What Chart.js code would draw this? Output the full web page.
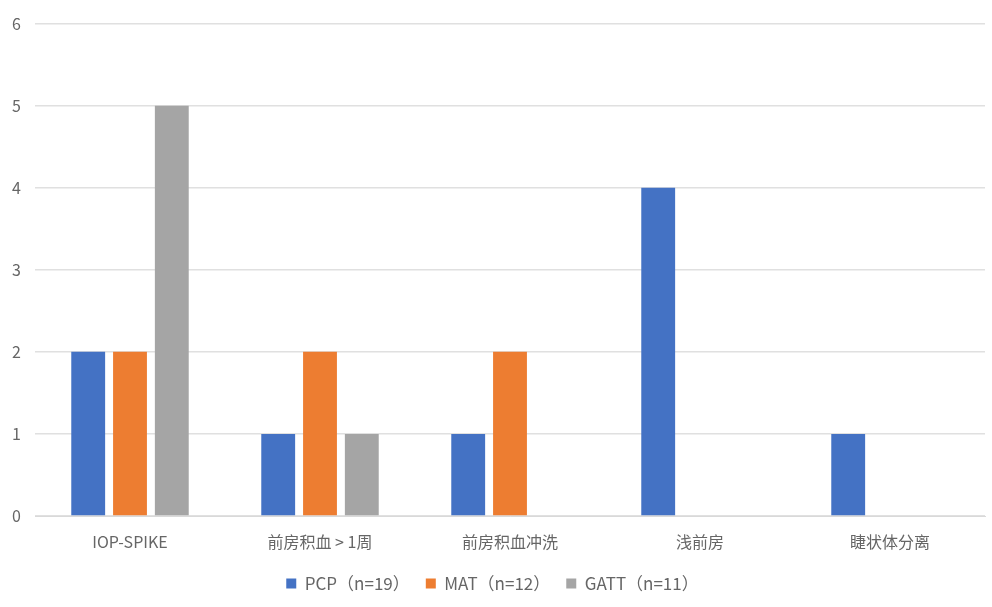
<!DOCTYPE html>
<html><head><meta charset="utf-8">
<script src="https://cdn.jsdelivr.net/npm/chart.js@4"></script>
<style>html,body{margin:0;padding:0;background:#fff}#wrap{width:992px;height:607px}</style>
</head><body><div id="wrap"><canvas id="c"></canvas></div>
<script>
const categories = ["IOP-SPIKE", "前房积血 > 1周", "前房积血冲洗", "浅前房", "睫状体分离"];
const seriesNames = ["PCP（n=19）", "MAT（n=12）", "GATT（n=11）"];
const pcp = [2, 1, 1, 4, 1];
const mat = [2, 2, 2, 0, 0];
const gatt = [5, 1, 0, 0, 0];
const yTicks = [0, 1, 2, 3, 4, 5, 6];
const colors = ["#4472C4", "#ED7D31", "#A5A5A5"];

const font = "'Noto Sans CJK SC', 'Noto Sans', sans-serif";
new Chart(document.getElementById('c'), {
  type: 'bar',
  data: {
    labels: categories,
    datasets: [pcp, mat, gatt].map((d, i) => ({
      label: seriesNames[i], data: d, backgroundColor: colors[i],
      categoryPercentage: 0.66, barPercentage: 0.81
    }))
  },
  options: {
    responsive: true, maintainAspectRatio: false, animation: false,
    layout: { padding: { left: 0, right: 7, top: -12, bottom: 5 } },
    plugins: {
      legend: { position: 'bottom', labels: { boxWidth: 10, boxHeight: 10, color: '#666666', font: { family: font, size: 17 }, padding: 16 } },
      tooltip: { enabled: false }
    },
    scales: {
      x: { grid: { display: false }, border: { display: true, color: '#d9d9d9' },
           afterFit: ax => { ax.height = 43; },
           ticks: { color: '#666666', font: { family: font, size: 16 }, padding: 8 } },
      y: { min: 0, max: 6, afterBuildTicks: ax => { ax.ticks = yTicks.map(v => ({ value: v })); },
           afterFit: ax => { ax.width = 35; },
           grid: { color: '#e0e0e0', lineWidth: 1.5, drawTicks: false }, border: { display: false },
           ticks: { color: '#666666', font: { family: font, size: 16 }, padding: 14 } }
    }
  }
});
</script></body></html>
